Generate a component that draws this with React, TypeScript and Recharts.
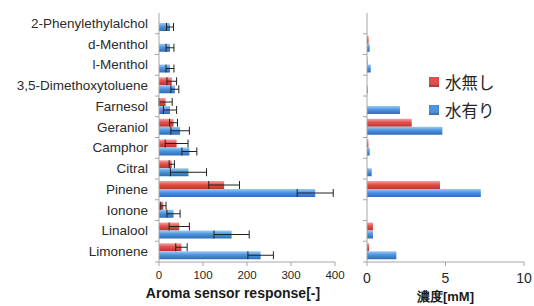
import React from "react";
import {
  BarChart,
  Bar,
  XAxis,
  YAxis,
  ErrorBar,
} from "recharts";

const categories = [
  "2-Phenylethylalchol",
  "d-Menthol",
  "l-Menthol",
  "3,5-Dimethoxytoluene",
  "Farnesol",
  "Geraniol",
  "Camphor",
  "Citral",
  "Pinene",
  "Ionone",
  "Linalool",
  "Limonene",
];

// Aroma sensor response
const responseDry = [0, 0, 0, 29, 15, 33, 40, 29, 148, 10, 46, 51];
const responseDryErr = [null, null, null, 11, 15, 9, 26, 6, 35, 6, 23, 13];
const responseWet = [25, 25, 25, 36, 25, 48, 69, 67, 355, 33, 165, 231];
const responseWetErr = [8, 9, 9, 9, 15, 21, 17, 41, 41, 15, 40, 29];

// 濃度 [mM]
const concDry = [0, 0.1, 0.03, 0, 0, 2.85, 0.09, 0, 4.65, 0, 0.38, 0.13];
const concWet = [0, 0.17, 0.24, 0.05, 2.1, 4.8, 0.17, 0.3, 7.25, 0, 0.38, 1.87];

const responseTicks = [0, 100, 200, 300, 400];
const concTicks = [0, 5, 10];

const seriesNames = ["水無し", "水有り"];

const data = categories.map((name, i) => ({
  name,
  dry: responseDry[i],
  dryErr: responseDryErr[i],
  wet: responseWet[i],
  wetErr: responseWetErr[i],
  cDry: concDry[i],
  cWet: concWet[i],
}));

const AXIS = "#a6a6a6";

function Gradients() {
  return (
    <defs>
      <linearGradient id="gRed" x1="0" y1="0" x2="0" y2="1">
        <stop offset="0%" stopColor="#f4a3a0" />
        <stop offset="45%" stopColor="#e2504c" />
        <stop offset="100%" stopColor="#b93431" />
      </linearGradient>
      <linearGradient id="gBlue" x1="0" y1="0" x2="0" y2="1">
        <stop offset="0%" stopColor="#9ccbf5" />
        <stop offset="45%" stopColor="#4d93df" />
        <stop offset="100%" stopColor="#2f6cb6" />
      </linearGradient>
    </defs>
  );
}

// category tick: label at centre, small mark at the band boundary (Excel style)
function CatTick(props: any) {
  const { x, y, payload, showText } = props;
  const half = payload && payload.offset ? payload.offset : 10;
  const axisX = x + (showText ? 11 : 0);
  return (
    <g>
      <line x1={axisX - 4} x2={axisX} y1={y + half} y2={y + half} stroke={AXIS} />
      {showText && (
        <text
          x={x}
          y={y}
          textAnchor="end"
          dominantBaseline="central"
          fontSize={13.5}
          fill="#2b2b2b"
          fontFamily="Liberation Sans, Arial, sans-serif"
        >
          {payload.value}
        </text>
      )}
    </g>
  );
}

function LegendBox() {
  const colors = ["#e2504c", "#4d93df"];
  return (
    <div style={{ fontFamily: "Noto Sans CJK JP, sans-serif" }}>
      {seriesNames.map((n, i) => (
        <div
          key={n}
          style={{ display: "flex", alignItems: "center", height: 28 }}
        >
          <span
            style={{
              width: 10,
              height: 10,
              background: colors[i],
              marginRight: 6,
              boxShadow: "inset 0 -2px 2px rgba(0,0,0,0.25)",
            }}
          />
          <span style={{ fontSize: 16.5, color: "#262626" }}>{n}</span>
        </div>
      ))}
    </div>
  );
}

export default function App() {
  return (
    <div
      style={{
        position: "fixed",
        left: 0,
        top: 0,
        width: 534,
        height: 306,
        background: "#fff",
        fontFamily: "Liberation Sans, Arial, sans-serif",
      }}
    >
      <div style={{ position: "absolute", left: 0, top: 0 }}>
        <BarChart
          width={350}
          height={306}
          data={data}
          layout="vertical"
          margin={{ top: 13, right: 15, left: 0, bottom: 0 }}
          barGap={0}
          barSize={8}
        >
          <Gradients />
          <XAxis
            type="number"
            domain={[0, 400]}
            ticks={responseTicks}
            stroke={AXIS}
            tickSize={4}
            tickMargin={5}
            height={44}
            tick={{ fontSize: 11.5, fill: "#262626" }}
            label={{
              value: "Aroma sensor response[-]",
              position: "insideBottom",
              offset: 8,
              dx: -14,
              fontSize: 14,
              fontWeight: "bold",
              fill: "#1a1a1a",
            }}
          />
          <YAxis
            type="category"
            dataKey="name"
            width={159}
            stroke={AXIS}
            tickLine={false}
            tickSize={0}
            tickMargin={11}
            interval={0}
            tick={<CatTick showText />}
          />
          <Bar dataKey="dry" name={seriesNames[0]} fill="url(#gRed)" isAnimationActive={false}>
            <ErrorBar dataKey="dryErr" direction="x" width={4} stroke="#222" strokeWidth={1} />
          </Bar>
          <Bar dataKey="wet" name={seriesNames[1]} fill="url(#gBlue)" isAnimationActive={false}>
            <ErrorBar dataKey="wetErr" direction="x" width={4} stroke="#222" strokeWidth={1} />
          </Bar>
        </BarChart>
      </div>
      <div style={{ position: "absolute", left: 350, top: 0 }}>
        <BarChart
          width={184}
          height={306}
          data={data}
          layout="vertical"
          margin={{ top: 13, right: 10, left: 7, bottom: 0 }}
          barGap={0}
          barSize={8}
        >
          <Gradients />
          <XAxis
            type="number"
            domain={[0, 10]}
            ticks={concTicks}
            stroke={AXIS}
            tickSize={4}
            tickMargin={7}
            height={44}
            tick={{ fontSize: 14, fill: "#262626" }}
            label={{
              value: "濃度[mM]",
              position: "insideBottom",
              offset: 5,
              fontSize: 13,
              fontWeight: "bold",
              fill: "#1a1a1a",
            }}
          />
          <YAxis
            type="category"
            dataKey="name"
            width={10}
            stroke={AXIS}
            tickLine={false}
            tickSize={0}
            tickMargin={0}
            interval={0}
            tick={<CatTick showText={false} />}
          />
          <Bar dataKey="cDry" name={seriesNames[0]} fill="url(#gRed)" isAnimationActive={false} />
          <Bar dataKey="cWet" name={seriesNames[1]} fill="url(#gBlue)" isAnimationActive={false} />
        </BarChart>
      </div>
      <div style={{ position: "absolute", left: 429, top: 68 }}>
        <LegendBox />
      </div>
    </div>
  );
}
